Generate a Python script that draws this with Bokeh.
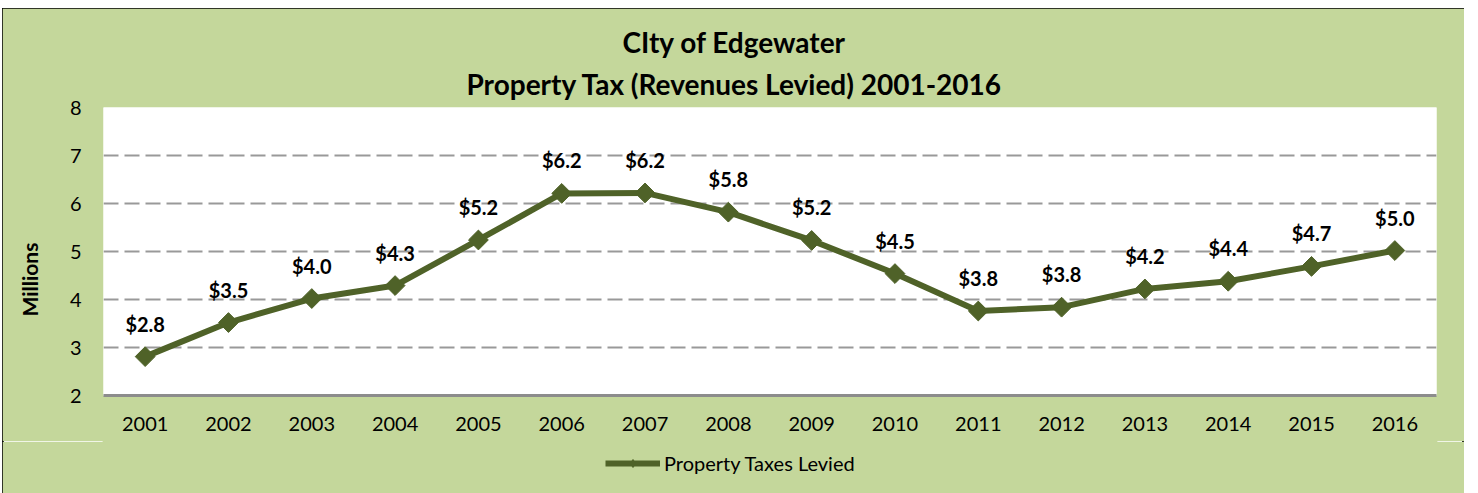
import numpy as np
from bokeh.plotting import figure
from bokeh.layouts import column
from bokeh.models import Range1d, Title, Legend, LegendItem, FixedTicker, ColumnDataSource
from bokeh.core.properties import value
from bokeh.embed import file_html
from bokeh.resources import INLINE

years = ["2001", "2002", "2003", "2004", "2005", "2006", "2007", "2008",
         "2009", "2010", "2011", "2012", "2013", "2014", "2015", "2016"]
levied = [2.81, 3.52, 4.02, 4.29, 5.24, 6.21, 6.22, 5.82,
          5.23, 4.54, 3.76, 3.84, 4.22, 4.38, 4.69, 5.02]
labels = [f"${v:.1f}" for v in levied]
y_ticks = [2, 3, 4, 5, 6, 7, 8]
series_name = "Property Taxes Levied"

FONT = "Lato"
GREEN_BG = "#C4D79B"
LINE_C = "#4F6228"

src = ColumnDataSource(dict(x=years, y=levied, lab=labels))

p = figure(x_range=years, y_range=Range1d(2, 8), frame_width=1333, frame_height=288,
           output_backend="svg", toolbar_location=None,
           min_border_left=101, min_border_right=28, min_border_top=99, min_border_bottom=46)
p.border_fill_color = GREEN_BG
p.background_fill_color = "white"
p.outline_line_color = None

p.add_layout(Title(text="Property Tax (Revenues Levied) 2001-2016", align="left", offset=363,
                   text_font=FONT, text_font_size="28px", text_font_style="bold",
                   text_color="black", standoff=13), "above")
p.add_layout(Title(text="CIty of Edgewater", align="left", offset=519,
                   text_font=FONT, text_font_size="28px", text_font_style="bold",
                   text_color="black", standoff=0), "above")

p.line("x", "y", source=src, line_color=LINE_C, line_width=6)
p.scatter("x", "y", source=src, marker="square", angle=np.pi / 4, size=14,
          fill_color=LINE_C, line_color=LINE_C)
p.text("x", "y", text="lab", source=src, text_align="center", text_baseline="middle",
       y_offset=-33, text_font=value(FONT), text_font_size="20px", text_font_style="bold",
       text_color="black")

p.xgrid.grid_line_color = None
p.ygrid.grid_line_color = "#999999"
p.ygrid.grid_line_width = 2
p.ygrid.grid_line_dash = "15 6"

p.yaxis.ticker = FixedTicker(ticks=y_ticks)
p.yaxis.axis_line_color = None
p.yaxis.major_tick_line_color = None
p.yaxis.minor_tick_line_color = None
p.yaxis.major_tick_in = 0
p.yaxis.major_tick_out = 0
p.yaxis.major_label_standoff = 22
p.yaxis.axis_label = "Millions" + "\u00a0" * 11
p.yaxis.axis_label_text_font = FONT
p.yaxis.axis_label_text_font_size = "21px"
p.yaxis.axis_label_text_font_style = "bold"
p.yaxis.axis_label_text_color = "black"
p.yaxis.axis_label_standoff = 25

p.xaxis.axis_line_color = "#8C8C8C"
p.xaxis.axis_line_width = 3
p.xaxis.major_tick_line_color = None
p.xaxis.minor_tick_line_color = None
p.xaxis.major_tick_in = 0
p.xaxis.major_tick_out = 0
p.xaxis.major_label_standoff = 21

for ax in (p.xaxis, p.yaxis):
    ax.major_label_text_font = FONT
    ax.major_label_text_font_size = "20px"
    ax.major_label_text_color = "black"

# legend strip below the chart (series drawn out of its visible range: only the key shows)
lg = figure(width=1462, height=52, x_range=years, y_range=Range1d(100, 101),
            output_backend="svg", toolbar_location=None,
            x_axis_type=None, y_axis_type=None,
            min_border_left=0, min_border_right=0, min_border_top=0, min_border_bottom=0)
lg.border_fill_color = GREEN_BG
lg.background_fill_color = GREEN_BG
lg.outline_line_color = GREEN_BG
lg.outline_line_width = 2
lg.grid.grid_line_color = None
k_line = lg.line("x", "y", source=src, line_color=LINE_C, line_width=6)
k_mark = lg.scatter("x", "y", source=src, marker="diamond", size=18,
                    fill_color=LINE_C, line_color=LINE_C)
legend = Legend(items=[LegendItem(label=series_name, renderers=[k_line, k_mark])],
                orientation="horizontal", location=(502, 18),
                label_text_font=FONT, label_text_font_size="20px", label_text_color="black",
                glyph_width=55, glyph_height=20, padding=0, margin=0, spacing=0,
                label_standoff=4, background_fill_alpha=0, border_line_color=None)
lg.add_layout(legend, "center")

layout = column(p, lg, spacing=0)
layout.styles = {"outline": "2px solid black", "outline-offset": "-2px",
                 "margin-left": "2px", "margin-top": "8px"}

open("out.html", "w").write(file_html(layout, INLINE))
